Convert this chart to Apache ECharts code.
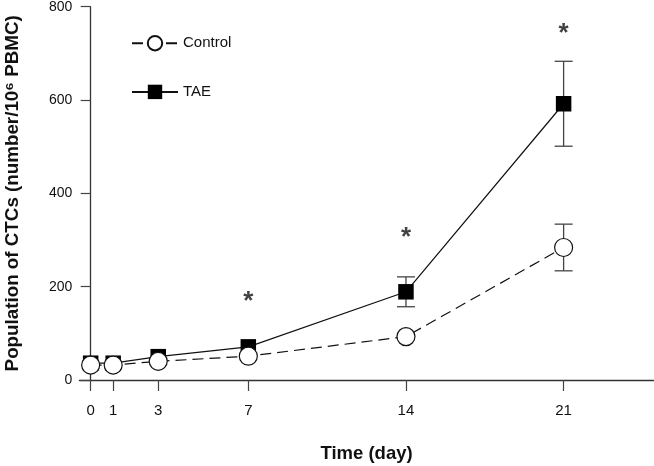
<!DOCTYPE html>
<html>
<head>
<meta charset="utf-8">
<script src="https://cdn.jsdelivr.net/npm/echarts@6/dist/echarts.min.js"></script>
<style>html,body{margin:0;padding:0;background:#fff}#c{width:654px;height:466px}</style>
</head>
<body>
<div id="c"></div>
<script>
var days = [0, 1, 3, 7, 14, 21];
var xTicks = [0, 1, 3, 7, 14, 21];
var yTicks = [0, 200, 400, 600, 800];
var controlMean = [32, 32, 40, 51, 93, 284];
var controlErr = [0, 0, 0, 0, 0, 50];
var taeMean = [36, 36, 50, 71, 189, 592];
var taeErr = [0, 0, 0, 0, 32, 91];
var starDays = [7, 14, 21];
var starValues = [176, 313, 750];

var FONT = '"Liberation Sans", Arial, Helvetica, sans-serif';

function pairs(xs, ys) { return xs.map(function (x, i) { return [x, ys[i]]; }); }
function errData(xs, m, e) {
  var out = [];
  xs.forEach(function (x, i) { if (e[i] > 0) out.push([x, m[i] - e[i], m[i] + e[i]]); });
  return out;
}
function errRender(params, api) {
  var x = api.value(0);
  var lo = api.coord([x, api.value(1)]);
  var hi = api.coord([x, api.value(2)]);
  var w = 9;
  var st = { stroke: '#444', lineWidth: 1.3 };
  return {
    type: 'group',
    children: [
      { type: 'line', shape: { x1: lo[0], y1: lo[1], x2: hi[0], y2: hi[1] }, style: st },
      { type: 'line', shape: { x1: lo[0] - w, y1: lo[1], x2: lo[0] + w, y2: lo[1] }, style: st },
      { type: 'line', shape: { x1: hi[0] - w, y1: hi[1], x2: hi[0] + w, y2: hi[1] }, style: st }
    ]
  };
}

var chart = echarts.init(document.getElementById('c'), null, { renderer: 'canvas' });
chart.setOption({
  animation: false,
  textStyle: { fontFamily: FONT },
  grid: { left: 79.4, right: 0.3, top: 6.7, bottom: 86, containLabel: false, outerBoundsMode: 'none' },
  legend: {
    orient: 'vertical',
    left: 126,
    top: 30,
    itemWidth: 46,
    itemHeight: 18,
    itemGap: 33,
    textStyle: { fontSize: 15, color: '#111', fontFamily: FONT },
    data: ['Control', 'TAE']
  },
  xAxis: {
    type: 'value',
    min: -0.5,
    max: 25,
    name: 'Time (day)',
    nameLocation: 'middle',
    nameGap: 64,
    nameTextStyle: { fontSize: 18.5, fontWeight: 'bold', color: '#111', fontFamily: FONT },
    axisLine: { onZero: false, lineStyle: { color: '#333', width: 1.3 } },
    axisTick: { show: true, length: 11, customValues: xTicks, lineStyle: { color: '#444', width: 1.2 } },
    axisLabel: { customValues: xTicks, margin: 23, fontSize: 15, color: '#111', fontFamily: FONT },
    splitLine: { show: false }
  },
  yAxis: {
    type: 'value',
    min: 0,
    max: 800,
    interval: 200,
    name: 'Population of CTCs (number/10⁶ PBMC)',
    nameLocation: 'middle',
    nameGap: 57,
    nameTextStyle: { fontSize: 18.8, fontWeight: 'bold', color: '#111', fontFamily: FONT },
    axisLine: { onZero: true, lineStyle: { color: '#333', width: 1.3 } },
    axisTick: { show: true, length: 10, customValues: yTicks, lineStyle: { color: '#444', width: 1.2 } },
    axisLabel: { customValues: yTicks, margin: 7, fontSize: 14, color: '#111', fontFamily: FONT },
    splitLine: { show: false }
  },
  series: [
    {
      name: 'TAE',
      type: 'line',
      data: pairs(days, taeMean),
      symbol: 'rect',
      symbolSize: 15.5,
      itemStyle: { color: '#000', borderColor: '#000', borderWidth: 0 },
      lineStyle: { color: '#111', width: 1.2, type: 'solid' },
      z: 3
    },
    {
      name: 'Control',
      type: 'line',
      data: pairs(days, controlMean),
      symbol: 'circle',
      symbolSize: 18,
      itemStyle: { color: '#fff', borderColor: '#111', borderWidth: 1.2 },
      lineStyle: { color: '#111', width: 1.2, type: [11, 6] },
      z: 4
    },
    {
      type: 'custom',
      renderItem: errRender,
      data: errData(days, taeMean, taeErr),
      z: 2,
      silent: true
    },
    {
      type: 'custom',
      renderItem: errRender,
      data: errData(days, controlMean, controlErr),
      z: 2,
      silent: true
    },
    {
      type: 'scatter',
      data: pairs(starDays, starValues),
      symbolSize: 0,
      silent: true,
      label: {
        show: true,
        position: 'inside',
        formatter: '*',
        fontSize: 26,
        fontWeight: 'bold',
        color: '#111',
        fontFamily: FONT,
        offset: [0, 4]
      }
    }
  ]
});
</script>
</body>
</html>
